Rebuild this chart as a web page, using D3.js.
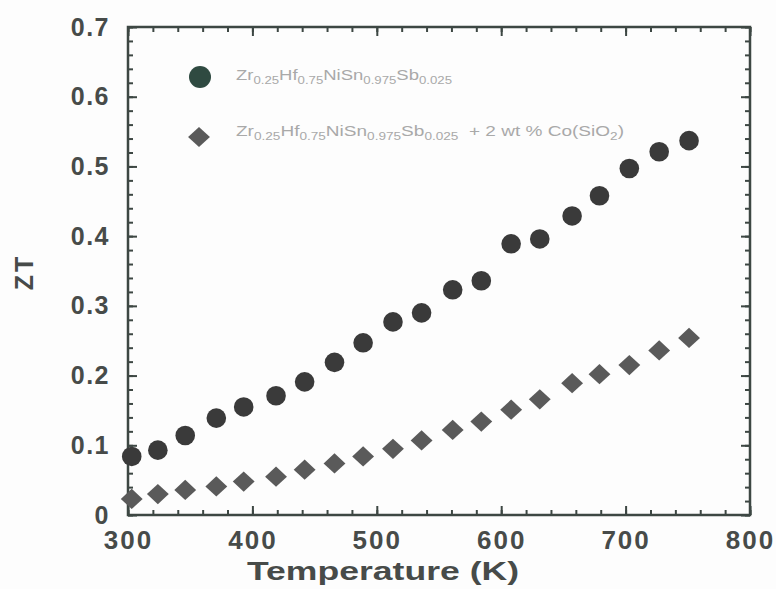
<!DOCTYPE html>
<html>
<head>
<meta charset="utf-8">
<script src="https://cdn.jsdelivr.net/npm/d3@7"></script>
<style>
  html, body { margin: 0; padding: 0; background: #fdfdfd; }
  svg { display: block; font-family: "Liberation Sans", Arial, sans-serif; }
</style>
</head>
<body>
<svg id="chart" width="776" height="589"></svg>
<script>
// ---- data ----
const temperatures = [303, 324, 346, 371, 393, 419, 442, 466, 489, 513, 536, 561, 584, 608, 631, 657, 679, 703, 727, 751];
const ztBase = [0.084, 0.093, 0.114, 0.139, 0.155, 0.171, 0.191, 0.219, 0.247, 0.277, 0.290, 0.323, 0.336, 0.389, 0.396, 0.429, 0.458, 0.497, 0.521, 0.537];
const ztComposite = [0.023, 0.030, 0.036, 0.041, 0.048, 0.055, 0.065, 0.074, 0.084, 0.095, 0.107, 0.122, 0.134, 0.151, 0.166, 0.189, 0.202, 0.215, 0.236, 0.254];
const xTicks = [300, 400, 500, 600, 700, 800];
const yTicks = [0, 0.1, 0.2, 0.3, 0.4, 0.5, 0.6, 0.7];
const yTickLabels = ["0", "0.1", "0.2", "0.3", "0.4", "0.5", "0.6", "0.7"];
const xTitle = "Temperature (K)";
const yTitle = "ZT";
// legend labels as [text, isSubscript] runs
const legendBase = [["Zr", 0], ["0.25", 1], ["Hf", 0], ["0.75", 1], ["NiSn", 0], ["0.975", 1], ["Sb", 0], ["0.025", 1]];
const legendComposite = [["Zr", 0], ["0.25", 1], ["Hf", 0], ["0.75", 1], ["NiSn", 0], ["0.975", 1], ["Sb", 0], ["0.025", 1], ["  + 2 wt % Co(SiO", 0], ["2", 1], [")", 0]];

// ---- layout ----
const W = 776, H = 589;
const margin = {left: 128, right: 26, top: 27, bottom: 74};
const iw = W - margin.left - margin.right;
const ih = H - margin.top - margin.bottom;
const axisColor = "#3d4743";
const labelColor = "#474b49";

const svg = d3.select("#chart");
const g = svg.append("g").attr("transform", `translate(${margin.left},${margin.top})`);

const x = d3.scaleLinear().domain([300, 800]).range([0, iw]);
const y = d3.scaleLinear().domain([0, 0.7]).range([ih, 0]);

const xMinor = d3.range(300, 801, 20);
const yMinor = d3.range(0, 0.7001, 0.02);

function styleAxis(sel) {
  sel.select(".domain").remove();
  sel.selectAll("line").attr("stroke", axisColor).attr("stroke-width", 2);
}

// bottom axis
g.append("g").attr("transform", `translate(0,${ih})`)
  .call(d3.axisBottom(x).tickValues(xMinor).tickSize(-5).tickFormat(""))
  .call(styleAxis);
g.append("g").attr("transform", `translate(0,${ih})`)
  .call(d3.axisBottom(x).tickValues(xTicks).tickSize(-9).tickPadding(20).tickFormat(d3.format("d")))
  .call(styleAxis)
  .call(s => s.selectAll("text")
    .attr("fill", labelColor).attr("font-size", 26).attr("font-weight", "bold")
    .attr("letter-spacing", 2).attr("dy", "0.55em"));

// top axis ticks
g.append("g")
  .call(d3.axisTop(x).tickValues(xMinor).tickSize(-5).tickFormat(""))
  .call(styleAxis);
g.append("g")
  .call(d3.axisTop(x).tickValues(xTicks).tickSize(-9).tickFormat(""))
  .call(styleAxis);

// left axis
g.append("g")
  .call(d3.axisLeft(y).tickValues(yMinor).tickSize(-5).tickFormat(""))
  .call(styleAxis);
g.append("g")
  .call(d3.axisLeft(y).tickValues(yTicks).tickSize(-9).tickPadding(18)
    .tickFormat((d, i) => yTickLabels[i]))
  .call(styleAxis)
  .call(s => s.selectAll("text")
    .attr("fill", labelColor).attr("font-size", 25).attr("font-weight", "bold")
    .attr("letter-spacing", 1.5));

// right axis ticks
g.append("g").attr("transform", `translate(${iw},0)`)
  .call(d3.axisRight(y).tickValues(yMinor).tickSize(-5).tickFormat(""))
  .call(styleAxis);
g.append("g").attr("transform", `translate(${iw},0)`)
  .call(d3.axisRight(y).tickValues(yTicks).tickSize(-9).tickFormat(""))
  .call(styleAxis);

// frame
g.append("rect").attr("x", 0).attr("y", 0).attr("width", iw).attr("height", ih)
  .attr("fill", "none").attr("stroke", axisColor).attr("stroke-width", 2.5);

// axis titles
svg.append("text")
  .attr("x", margin.left + x(505)).attr("y", 580)
  .attr("text-anchor", "middle")
  .attr("font-size", 25).attr("font-weight", "bold").attr("fill", labelColor)
  .attr("textLength", 272).attr("lengthAdjust", "spacingAndGlyphs")
  .text(xTitle);
svg.append("text")
  .attr("transform", "translate(33,272) rotate(-90)")
  .attr("text-anchor", "middle")
  .attr("font-size", 25).attr("font-weight", "bold").attr("fill", labelColor)
  .attr("letter-spacing", 3)
  .text(yTitle);

// series
const circleColor = "#3a3a3a";
const diamondColor = "#5a5a5a";
const diamond = d3.symbol().type(d3.symbolSquare).size(205);

g.append("g").selectAll("path")
  .data(temperatures.map((t, i) => [t, ztComposite[i]]))
  .join("path")
  .attr("d", diamond)
  .attr("transform", d => `translate(${x(d[0])},${y(d[1])}) scale(1.08,1) rotate(45)`)
  .attr("fill", diamondColor);

g.append("g").selectAll("circle")
  .data(temperatures.map((t, i) => [t, ztBase[i]]))
  .join("circle")
  .attr("cx", d => x(d[0])).attr("cy", d => y(d[1]))
  .attr("r", 9.8)
  .attr("fill", circleColor);

// legend
function legendText(parent, runs, tx, ty) {
  const t = parent.append("text").attr("x", tx).attr("y", ty)
    .attr("font-size", 14).attr("fill", "#a9a9a9");
  runs.forEach(([s, sub], i) => {
    const prevSub = i > 0 ? runs[i - 1][1] : 0;
    const ts = t.append("tspan").text(s).attr("xml:space", "preserve");
    if (sub) ts.attr("font-size", 10);
    ts.attr("dy", sub && !prevSub ? 4 : (!sub && prevSub ? -4 : 0));
  });
  return t;
}

svg.append("circle").attr("cx", 200).attr("cy", 77).attr("r", 11).attr("fill", "#2f4a41");
svg.append("path").attr("d", diamond)
  .attr("transform", "translate(199,137) scale(1.08,1) rotate(45)")
  .attr("fill", diamondColor);

legendText(svg, legendBase, 236, 80).attr("textLength", 216).attr("lengthAdjust", "spacingAndGlyphs");
legendText(svg, legendComposite, 236, 136).attr("textLength", 388).attr("lengthAdjust", "spacingAndGlyphs");
</script>
</body>
</html>
